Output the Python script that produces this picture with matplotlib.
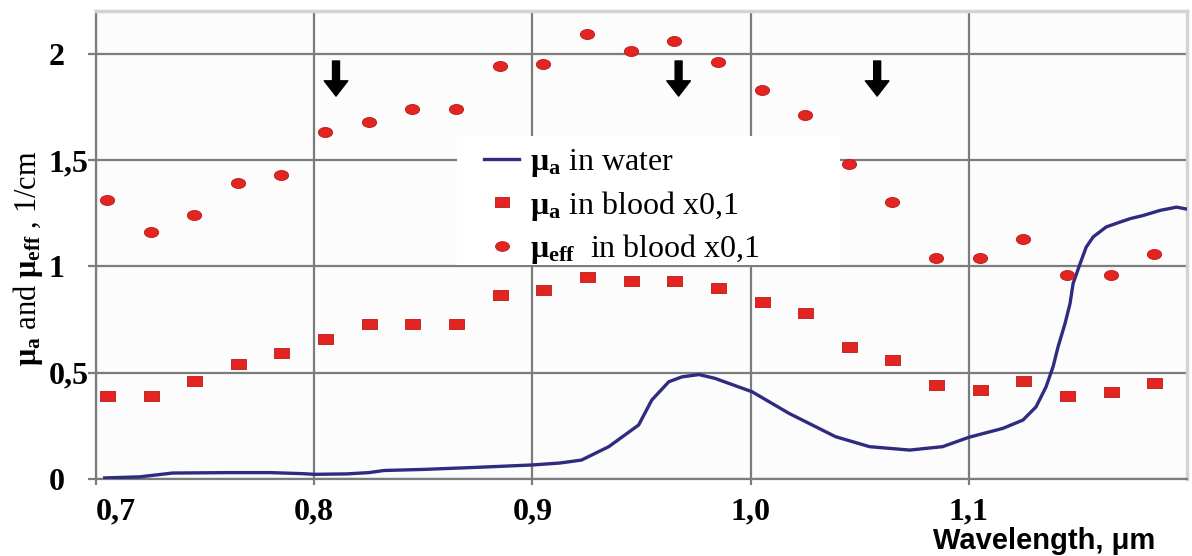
import matplotlib
matplotlib.use("Agg")
import matplotlib.pyplot as plt
import numpy as np
from matplotlib.lines import Line2D
from matplotlib.patches import Rectangle
from matplotlib.path import Path

plt.rcParams['mathtext.fontset'] = 'custom'
plt.rcParams['mathtext.rm'] = 'Liberation Serif'
plt.rcParams['mathtext.bf'] = 'Liberation Serif:bold'
plt.rcParams['mathtext.it'] = 'Liberation Serif:italic'

# Blood measurements (scaled x0.1), wavelength in micrometres
blood_wavelength = [0.705, 0.725, 0.745, 0.765, 0.785, 0.805, 0.825, 0.845, 0.865,
                    0.885, 0.905, 0.925, 0.945, 0.965, 0.985, 1.005, 1.025, 1.045,
                    1.065, 1.085, 1.105, 1.125, 1.145, 1.165, 1.185]
mu_a_blood = [0.39, 0.39, 0.46, 0.54, 0.59, 0.66, 0.73, 0.73, 0.73,
              0.865, 0.89, 0.95, 0.93, 0.93, 0.90, 0.83, 0.78, 0.62,
              0.56, 0.44, 0.42, 0.46, 0.39, 0.41, 0.45]
mu_eff_blood = [1.31, 1.16, 1.24, 1.39, 1.43, 1.63, 1.68, 1.74, 1.74,
                1.94, 1.95, 2.09, 2.01, 2.06, 1.96, 1.83, 1.71, 1.48,
                1.30, 1.04, 1.04, 1.13, 0.96, 0.96, 1.06]

# Water absorption spectrum
water_wavelength = [0.704, 0.72, 0.735, 0.76, 0.78, 0.795, 0.80, 0.815, 0.825, 0.832,
                    0.85, 0.875, 0.90, 0.9125, 0.9225, 0.935, 0.9487, 0.9547, 0.9625,
                    0.9685, 0.9763, 0.9837, 1.0007, 1.0177, 1.0389, 1.0545, 1.0729,
                    1.088, 1.10, 1.1156, 1.1248, 1.1308, 1.1354, 1.1386, 1.1409, 1.1441,
                    1.1464, 1.1478, 1.151, 1.1538, 1.157, 1.163, 1.1694, 1.174, 1.18,
                    1.1878, 1.1952, 1.1993, 1.204]
mu_a_water = [0.005, 0.01, 0.028, 0.03, 0.03, 0.025, 0.022, 0.024, 0.03, 0.04,
              0.045, 0.055, 0.066, 0.075, 0.089, 0.152, 0.254, 0.371, 0.457,
              0.48, 0.491, 0.473, 0.41, 0.308, 0.199, 0.152, 0.136,
              0.152, 0.196, 0.238, 0.277, 0.339, 0.433, 0.527, 0.621, 0.731,
              0.825, 0.919, 1.012, 1.09, 1.138, 1.185, 1.208, 1.224, 1.239,
              1.263, 1.278, 1.27, 1.263]

# Marked laser wavelengths
arrow_wavelengths = [0.81, 0.967, 1.058]

x_ticks = [0.7, 0.8, 0.9, 1.0, 1.1]
x_tick_labels = ["0,7", "0,8", "0,9", "1,0", "1,1"]
y_ticks = [0, 0.5, 1, 1.5, 2]
y_tick_labels = ["0", "0,5", "1", "1,5", "2"]

RED = '#e32420'
RED_EDGE = '#b81a18'
NAVY = '#2f2b7f'
GRID = '#7c7c7c'

# flattened square and ellipse markers
rect_marker = [(-1, -0.72), (1, -0.72), (1, 0.72), (-1, 0.72), (-1, -0.72)]
circ = Path.unit_circle()
ell_marker = Path(circ.vertices * np.array([1.0, 0.7]), circ.codes)

W, H = 1192, 556
fig = plt.figure(figsize=(W / 100, H / 100), dpi=100)
ax = fig.add_axes([96 / W, 1 - 479 / H, (1187 - 96) / W, (479 - 11) / H])
ax.set_facecolor('#fcfcfc')

ax.set_xlim(0.7, 1.2)
ax.set_ylim(0, 2.2)
ax.set_xticks(x_ticks, x_tick_labels)
ax.set_yticks(y_ticks, y_tick_labels)
ax.grid(True, color=GRID, lw=1.6, zorder=0)
ax.set_axisbelow(True)

for side in ('left', 'bottom'):
    ax.spines[side].set_color(GRID)
    ax.spines[side].set_linewidth(1.6)
for side in ('top', 'right'):
    ax.spines[side].set_color('#d4d4d4')
    ax.spines[side].set_linewidth(2.5)

tick_font = dict(family='Liberation Serif', weight='bold', size=23)
ax.tick_params(axis='y', direction='out', length=5.8, width=1.6, color=GRID, pad=28.2)
ax.tick_params(axis='x', direction='out', length=4.3, width=1.6, color=GRID, pad=9)
for lab in ax.get_yticklabels():
    lab.set_fontproperties(tick_font)
    lab.set_horizontalalignment('left')
for lab in ax.get_xticklabels():
    lab.set_fontproperties(tick_font)
ax.get_xticklabels()[0].set_horizontalalignment('left')

# white box behind the legend
ax.add_patch(Rectangle(((457 - 96) / 1091, (479 - 265) / 468), (840 - 457) / 1091, (265 - 136) / 468,
                       transform=ax.transAxes, facecolor='white', edgecolor='none', zorder=1))

ax.plot(water_wavelength, mu_a_water, color=NAVY, lw=2.4, zorder=3, clip_on=True)
ax.plot(blood_wavelength, mu_a_blood, linestyle='none', marker=rect_marker, markersize=10.8,
        markerfacecolor=RED, markeredgecolor=RED_EDGE, markeredgewidth=0.6, zorder=4)
ax.plot(blood_wavelength, mu_eff_blood, linestyle='none', marker=ell_marker, markersize=10.3,
        markerfacecolor=RED, markeredgecolor=RED_EDGE, markeredgewidth=0.6, zorder=4)

for wl in arrow_wavelengths:
    ax.annotate('', xy=(wl, 1.80), xytext=(wl, 1.965),
                arrowprops=dict(width=5, headwidth=17, headlength=11, shrink=0,
                                facecolor='black', edgecolor='black'), zorder=5)

handles = [
    Line2D([], [], color=NAVY, lw=2.4),
    Line2D([], [], linestyle='none', marker=rect_marker, markersize=10,
           markerfacecolor=RED, markeredgecolor=RED_EDGE, markeredgewidth=0.6),
    Line2D([], [], linestyle='none', marker=ell_marker, markersize=10,
           markerfacecolor=RED, markeredgecolor=RED_EDGE, markeredgewidth=0.6),
]
labels = [r"$\mathbf{μ_a}$ in water",
          r"$\mathbf{μ_a}$ in blood x0,1",
          r"$\mathbf{μ_{eff}}$  in blood x0,1"]
leg = ax.legend(handles, labels, loc='upper left',
                bbox_to_anchor=((484 - 96) / 1091, (479 - 147) / 468),
                frameon=False, prop=dict(family='Liberation Serif', size=23),
                handlelength=1.1, handletextpad=0.35, labelspacing=0.3,
                borderpad=0.0, borderaxespad=0.0)
leg.set_zorder(6)

fig.text(28 / W, 1 - 258 / H, r"$\mathbf{μ_a}$ and $\mathbf{μ_{eff}}$ , 1/cm",
         rotation=90, ha='center', va='center', family='Liberation Serif', size=22)
fig.text(933 / W, 7 / H, "Wavelength, μm", ha='left', va='baseline',
         family='Liberation Sans', weight='bold', size=21)

fig.savefig('out.png', dpi=100, facecolor='white')
